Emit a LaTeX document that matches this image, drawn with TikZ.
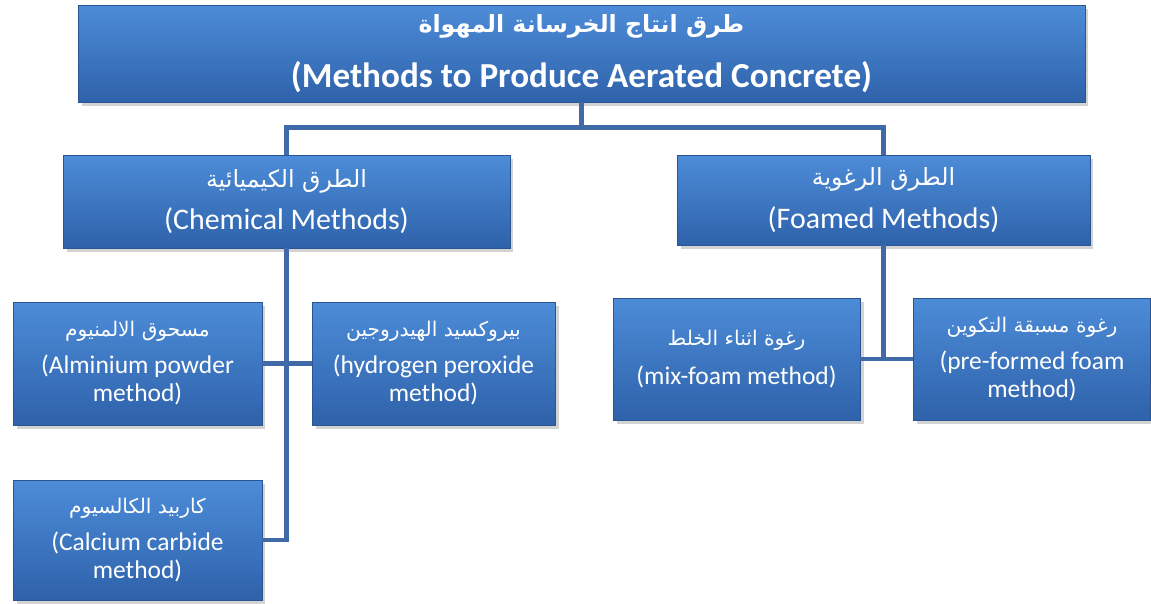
\documentclass[tikz,border=0pt]{standalone}
\usepackage{fontspec}
\setmainfont{Carlito}
\newfontfamily\arabicfont[Script=Arabic]{DejaVu Sans}
\TeXXeTstate=1
\usepackage{tikz}
\usetikzlibrary{shadows}
\definecolor{boxtop}{HTML}{4D8CD8}
\definecolor{boxbot}{HTML}{2E62AA}
\definecolor{boxline}{HTML}{2B5592}
\definecolor{linkblue}{HTML}{3F69A7}
\tikzstyle{method}=[draw=boxline,thin,top color=boxtop,bottom color=boxbot,
  text=white,align=center,inner sep=2pt,
  drop shadow={shadow xshift=2pt,shadow yshift=-2pt,opacity=0.35}]
\tikzstyle{rootbox}=[method,font=\fontsize{20}{31}\selectfont\bfseries]
\tikzstyle{groupbox}=[method,font=\fontsize{17}{24}\selectfont]
\tikzstyle{leafbox}=[method,font=\fontsize{14.5}{16}\selectfont]
\tikzstyle{link}=[draw=linkblue,line width=2.5pt]
\newcommand{\ar}{\arabicfont}

\begin{document}
\begin{tikzpicture}[x=0.02cm,y=-0.02cm]
  \useasboundingbox (0,0) rectangle (1151,603);
  \node[rootbox,minimum width=20.14cm,minimum height=1.94cm] (root) at (581.5,53.5)
    {{\ar\fontsize{13.5}{31}\selectfont\beginR طرق انتاج الخرسانة المهواة\endR}\\(Methods to Produce Aerated Concrete)};
  \node[groupbox,minimum width=8.94cm,minimum height=1.86cm] (chem) at (286.5,201.5)
    {{\ar\fontsize{13.5}{24}\selectfont\beginR الطرق الكيميائية\endR}\\(Chemical Methods)};
  \node[groupbox,minimum width=8.26cm,minimum height=1.8cm] (foam) at (883.5,200)
    {{\ar\fontsize{13.5}{24}\selectfont\beginR الطرق الرغوية\endR}\\(Foamed Methods)};
  \node[leafbox,minimum width=4.98cm,minimum height=2.46cm] (alum) at (137.5,363.5)
    {{\ar\fontsize{11.5}{16}\selectfont\beginR مسحوق الالمنيوم\endR}\\[5pt](Alminium powder\\method)};
  \node[leafbox,minimum width=4.86cm,minimum height=2.46cm] (hydro) at (433.5,363.5)
    {{\ar\fontsize{11.5}{16}\selectfont\beginR بيروكسيد الهيدروجين\endR}\\[5pt](hydrogen peroxide\\method)};
  \node[leafbox,minimum width=4.98cm,minimum height=2.4cm] (calc) at (137.5,540)
    {{\ar\fontsize{11.5}{16}\selectfont\beginR كاربيد الكالسيوم\endR}\\[5pt](Calcium carbide\\method)};
  \node[leafbox,minimum width=4.94cm,minimum height=2.44cm] (mix) at (736.5,359)
    {{\ar\fontsize{11.5}{16}\selectfont\beginR رغوة اثناء الخلط\endR}\\[6pt](mix-foam method)};
  \node[leafbox,minimum width=4.74cm,minimum height=2.44cm] (pre) at (1032,359)
    {{\ar\fontsize{11.5}{16}\selectfont\beginR رغوة مسبقة التكوين\endR}\\[5pt](pre-formed foam\\method)};
  \draw[link] (root.south) -- ++(0,26) coordinate (hub);
  \draw[link] (chem.north) -- ++(0,-27) -| (foam.north);
  \draw[link] (chem.south) |- (calc.east);
  \draw[link] (alum.east) -- (hydro.west);
  \draw[link] (foam.south) |- (mix.east);
  \draw[link] (mix.east) -- (pre.west);
\end{tikzpicture}
\end{document}
